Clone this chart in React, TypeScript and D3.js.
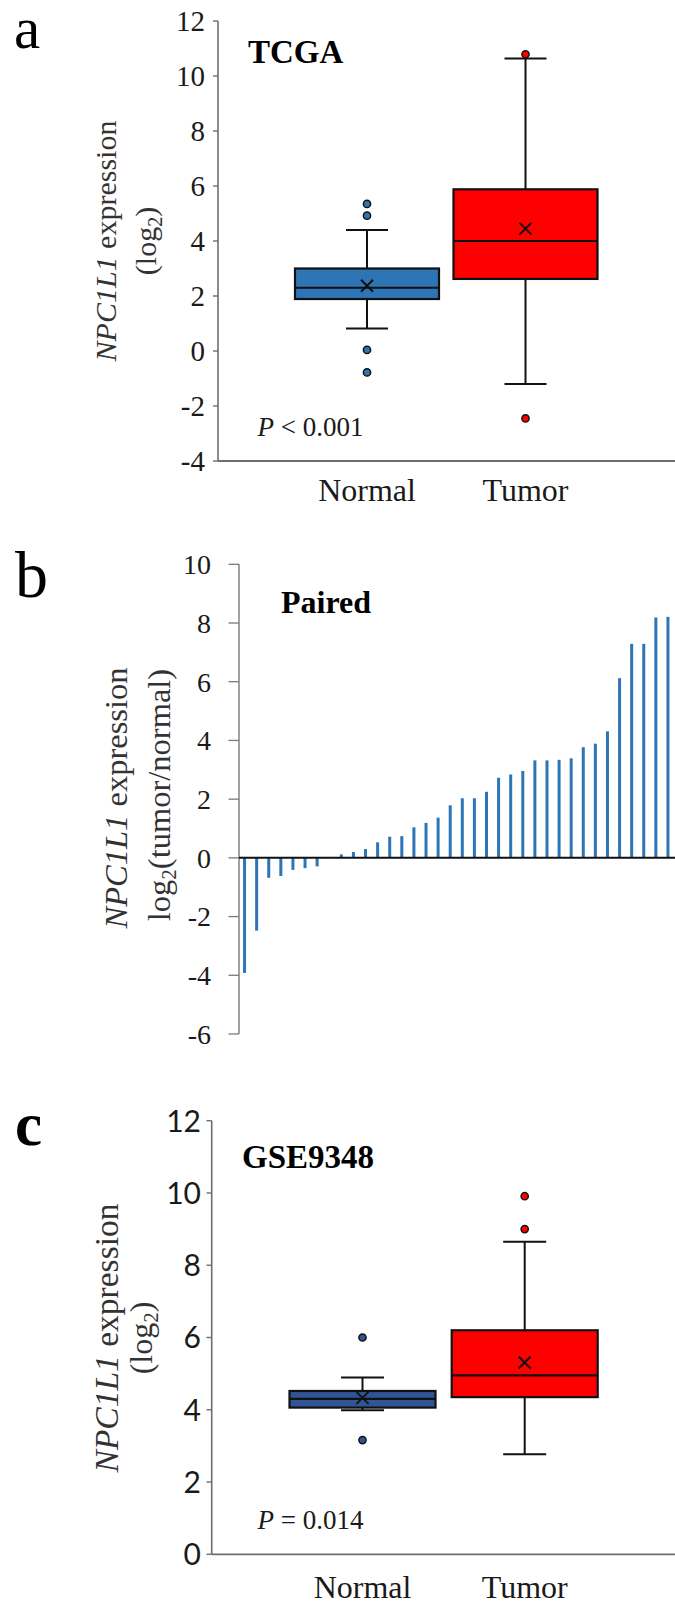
import React from 'react';
import * as d3 from 'd3';

const groups = ['Normal', 'Tumor'];

// a: TCGA box plot (log2)
const tcgaMin = [0.82, -1.2];
const tcgaQ1 = [1.89, 2.62];
const tcgaMedian = [2.3, 4.0];
const tcgaQ3 = [3.0, 5.88];
const tcgaMax = [4.4, 10.64];
const tcgaMean = [2.37, 4.45];
const tcgaOutliers = [[5.35, 4.92, 0.04, -0.78], [10.79, -2.45]];
const tcgaTicks = [12, 10, 8, 6, 4, 2, 0, -2, -4];

// b: paired log2(tumor/normal), sorted
const pairedRatio = [
  -3.92, -2.48, -0.68, -0.62, -0.41, -0.35, -0.29,
  0.03, 0.12, 0.2, 0.3, 0.53, 0.72, 0.74, 1.04, 1.19, 1.37,
  1.79, 2.03, 2.03, 2.25, 2.73, 2.84, 2.96, 3.32, 3.32, 3.34,
  3.39, 3.77, 3.89, 4.31, 6.12, 7.29, 7.29, 8.19, 8.21,
];
const pairedTicks = [10, 8, 6, 4, 2, 0, -2, -4, -6];

// c: GSE9348 box plot
const gseMin = [3.99, 2.77];
const gseQ1 = [4.06, 4.35];
const gseMedian = [4.3, 4.95];
const gseQ3 = [4.52, 6.2];
const gseMax = [4.89, 8.65];
const gseMean = [4.33, 5.31];
const gseOutliers = [[6.0, 3.16], [9.91, 9.0]];
const gseTicks = [12, 10, 8, 6, 4, 2, 0];

const SERIF = '"Liberation Serif", "Times New Roman", serif';
const SANS = 'Lato, "Open Sans", sans-serif';

function Boxes({ x, y, mins, q1s, meds, q3s, maxs, means, outliers, colors, boxW, capW }) {
  return (
    <g>
      {groups.map((g, i) => {
        const cx = x(g);
        return (
          <g key={g}>
            <line x1={cx} x2={cx} y1={y(maxs[i])} y2={y(q3s[i])} stroke="#111" strokeWidth={2} />
            <line x1={cx} x2={cx} y1={y(q1s[i])} y2={y(mins[i])} stroke="#111" strokeWidth={2} />
            <line x1={cx - capW / 2} x2={cx + capW / 2} y1={y(maxs[i])} y2={y(maxs[i])} stroke="#111" strokeWidth={2} />
            <line x1={cx - capW / 2} x2={cx + capW / 2} y1={y(mins[i])} y2={y(mins[i])} stroke="#111" strokeWidth={2} />
            <rect x={cx - boxW / 2} y={y(q3s[i])} width={boxW} height={y(q1s[i]) - y(q3s[i])}
              fill={colors[i]} stroke="#111" strokeWidth={2.2} />
            <line x1={cx - boxW / 2} x2={cx + boxW / 2} y1={y(meds[i])} y2={y(meds[i])} stroke="#111" strokeWidth={2.2} />
            <path d={`M${cx - 6},${y(means[i]) - 6}L${cx + 6},${y(means[i]) + 6}M${cx + 6},${y(means[i]) - 6}L${cx - 6},${y(means[i]) + 6}`}
              stroke="#111" strokeWidth={2} />
            {outliers[i].map((v, j) => (
              <circle key={j} cx={cx} cy={y(v)} r={3.6} fill={colors[i]} stroke="#111" strokeWidth={1.5} />
            ))}
          </g>
        );
      })}
    </g>
  );
}

export default function App() {
  // panel a
  const yA = d3.scaleLinear().domain([-4, 12]).range([461, 21]);
  const xA = d3.scalePoint().domain(groups).range([367, 525.5]);
  // panel b
  const yB = d3.scaleLinear().domain([-6, 10]).range([1034, 564.3]);
  const xB = d3.scaleBand().domain(d3.range(pairedRatio.length)).range([238.5, 674]);
  // panel c
  const yC = d3.scaleLinear().domain([0, 12]).range([1554.3, 1120.7]);
  const xC = d3.scalePoint().domain(groups).range([362.5, 524.7]);

  return (
    <svg width={675} height={1605} style={{ position: 'absolute', left: 0, top: 0, background: '#fff' }}>
      {/* ---------- a ---------- */}
      <text x={14} y={48} fontFamily={SERIF} fontSize={59} fill="#000">a</text>
      <line x1={218} x2={218} y1={yA(12)} y2={yA(-4)} stroke="#6e6e6e" strokeWidth={1.6} />
      <line x1={218} x2={675} y1={yA(-4)} y2={yA(-4)} stroke="#6e6e6e" strokeWidth={1.8} />
      {tcgaTicks.map((t) => (
        <g key={t}>
          <line x1={213} x2={218} y1={yA(t)} y2={yA(t)} stroke="#6e6e6e" strokeWidth={1.4} />
          <text x={205} y={yA(t)} dy="0.35em" textAnchor="end" fontFamily={SERIF} fontSize={29} fill="#1a1a1a">{t}</text>
        </g>
      ))}
      <text x={248} y={63} fontFamily={SERIF} fontWeight="bold" fontSize={33} fill="#000">TCGA</text>
      <text transform={`translate(115.5,241) rotate(-90)`} textAnchor="middle" fontFamily={SERIF} fontSize={30} fill="#333">
        <tspan fontStyle="italic">NPC1L1</tspan> expression
      </text>
      <text transform={`translate(156,241) rotate(-90)`} textAnchor="middle" fontFamily={SERIF} fontSize={30} fill="#333">
        (log<tspan dy={6} fontSize={20}>2</tspan><tspan dy={-6}>)</tspan>
      </text>
      <Boxes x={xA} y={yA} mins={tcgaMin} q1s={tcgaQ1} meds={tcgaMedian} q3s={tcgaQ3} maxs={tcgaMax}
        means={tcgaMean} outliers={tcgaOutliers} colors={['#2E75B6', '#FF0000']} boxW={144} capW={42} />
      <text x={257.5} y={436} fontFamily={SERIF} fontSize={27} fill="#1a1a1a">
        <tspan fontStyle="italic">P</tspan> &lt; 0.001
      </text>
      {groups.map((g) => (
        <text key={g} x={xA(g)} y={501} textAnchor="middle" fontFamily={SERIF} fontSize={32} fill="#1a1a1a">{g}</text>
      ))}

      {/* ---------- b ---------- */}
      <text x={15} y={597} fontFamily={SERIF} fontSize={66} fill="#000">b</text>
      <line x1={239} x2={239} y1={yB(10)} y2={yB(-6)} stroke="#7a7a7a" strokeWidth={1.4} />
      {pairedTicks.map((t) => (
        <g key={t}>
          <line x1={228.5} x2={239} y1={yB(t)} y2={yB(t)} stroke="#7a7a7a" strokeWidth={1.3} />
          <text x={211} y={yB(t)} dy="0.35em" textAnchor="end" fontFamily={SERIF} fontSize={28} fill="#1a1a1a">{t}</text>
        </g>
      ))}
      {pairedRatio.map((v, i) => (
        <rect key={i} x={xB(i) + xB.bandwidth() / 2 - 1.5} width={3}
          y={Math.min(yB(v), yB(0))} height={Math.abs(yB(v) - yB(0))} fill="#2E75B6" />
      ))}
      <line x1={239} x2={675} y1={yB(0)} y2={yB(0)} stroke="#111" strokeWidth={2} />
      <text x={281} y={613} fontFamily={SERIF} fontWeight="bold" fontSize={32} fill="#000">Paired</text>
      <text transform={`translate(127,798) rotate(-90)`} textAnchor="middle" fontFamily={SERIF} fontSize={32.5} fill="#333">
        <tspan fontStyle="italic">NPC1L1</tspan> expression
      </text>
      <text transform={`translate(170,795) rotate(-90)`} textAnchor="middle" fontFamily={SERIF} fontSize={32.5} fill="#333">
        log<tspan dy={6} fontSize={21}>2</tspan><tspan dy={-6}>(tumor/normal)</tspan>
      </text>

      {/* ---------- c ---------- */}
      <text x={15} y={1145} fontFamily={SERIF} fontWeight="bold" fontSize={61} fill="#000">c</text>
      <line x1={211.7} x2={211.7} y1={yC(12)} y2={yC(0)} stroke="#6e6e6e" strokeWidth={1.6} />
      <line x1={211.7} x2={675} y1={yC(0)} y2={yC(0)} stroke="#6e6e6e" strokeWidth={1.8} />
      {gseTicks.map((t) => (
        <g key={t}>
          <line x1={206.5} x2={211.7} y1={yC(t)} y2={yC(t)} stroke="#6e6e6e" strokeWidth={1.4} />
          <text x={201} y={yC(t)} dy="0.36em" textAnchor="end" fontFamily={SANS} fontSize={30} fill="#1a1a1a">{t}</text>
        </g>
      ))}
      <text x={242} y={1168} fontFamily={SERIF} fontWeight="bold" fontSize={33} fill="#000">GSE9348</text>
      <text transform={`translate(118,1338) rotate(-90)`} textAnchor="middle" fontFamily={SERIF} fontSize={33.5} fill="#333">
        <tspan fontStyle="italic">NPC1L1</tspan> expression
      </text>
      <text transform={`translate(152,1338) rotate(-90)`} textAnchor="middle" fontFamily={SERIF} fontSize={32} fill="#333">
        (log<tspan dy={6} fontSize={21}>2</tspan><tspan dy={-6}>)</tspan>
      </text>
      <Boxes x={xC} y={yC} mins={gseMin} q1s={gseQ1} meds={gseMedian} q3s={gseQ3} maxs={gseMax}
        means={gseMean} outliers={gseOutliers} colors={['#2F5597', '#FF0000']} boxW={146} capW={43} />
      <text x={257.5} y={1529} fontFamily={SERIF} fontSize={27} fill="#1a1a1a">
        <tspan fontStyle="italic">P</tspan> = 0.014
      </text>
      {groups.map((g) => (
        <text key={g} x={xC(g)} y={1598} textAnchor="middle" fontFamily={SERIF} fontSize={32} fill="#1a1a1a">{g}</text>
      ))}
    </svg>
  );
}
